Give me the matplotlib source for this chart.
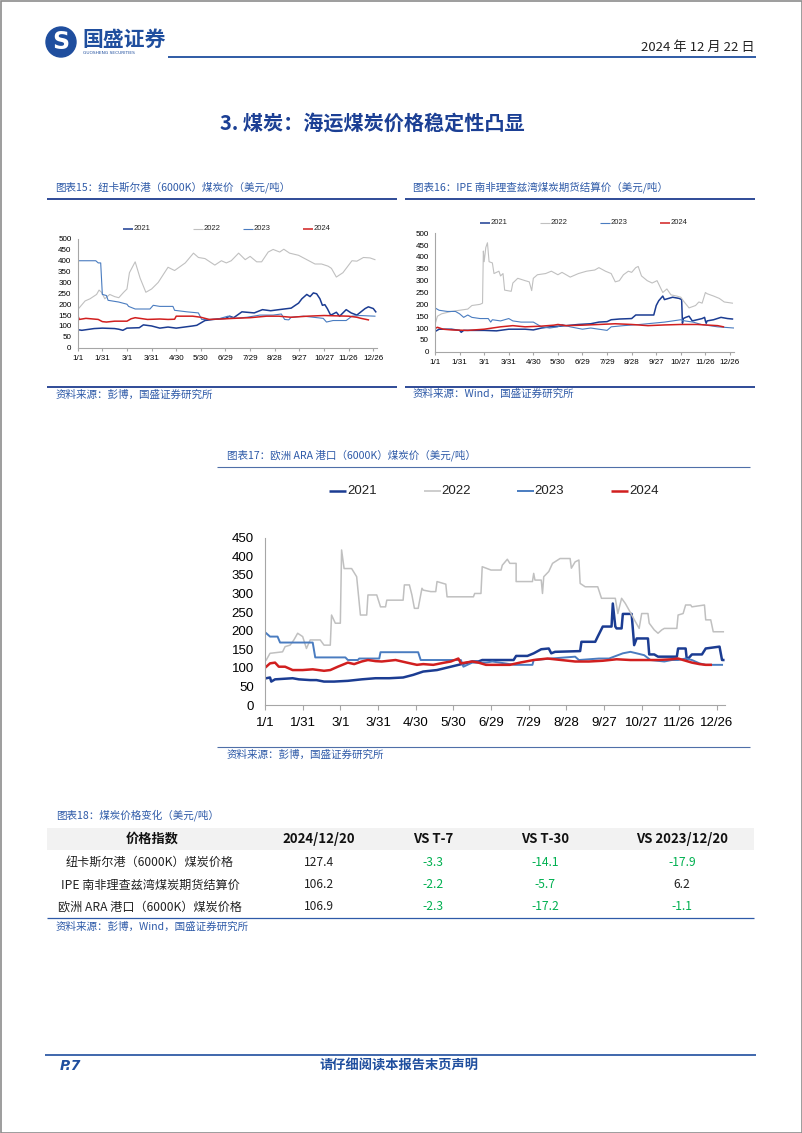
import matplotlib
matplotlib.use('Agg')
import matplotlib.pyplot as plt
import numpy as np
from matplotlib.patches import Rectangle, Circle

CJK = ['Noto Sans CJK SC', 'DejaVu Sans']
W, H = 802, 1133

# ---- data ----
years = ['2021', '2022', '2023', '2024']
xlabels = ['1/1', '1/31', '3/1', '3/31', '4/30', '5/30', '6/29', '7/29', '8/28', '9/27', '10/27', '11/26', '12/26']

# 纽卡斯尔港 (day of year, USD/t)
nc21_d = [0,5,20,30,45,50,55,60,75,80,90,100,110,120,130,140,145,155,165,180,185,190,200,215,225,235,245,260,265,269,273,279,283,287,291,295,298,301,304,308,311,315,319,327,333,340,350,354,360,363]
nc21_v = [83,80,88,90,88,85,80,90,92,105,100,90,95,90,95,100,103,125,130,135,145,138,165,160,175,170,175,182,195,205,225,245,235,252,248,225,195,198,180,150,155,163,145,175,160,150,180,188,180,165]
nc22_d = [0,9,15,19,23,26,29,33,39,45,50,56,60,63,70,76,83,90,98,110,118,131,141,147,155,167,175,181,187,196,204,210,218,224,232,238,246,251,258,269,279,289,297,305,309,315,323,334,340,348,356,362]
nc22_v = [175,215,225,235,245,265,255,225,245,235,230,255,270,345,395,320,255,270,300,370,355,390,435,415,410,380,400,390,400,435,405,420,395,395,440,452,440,453,435,425,405,385,385,375,365,325,345,400,398,415,413,405]
nc23_d = [0,22,25,28,30,35,37,50,60,62,70,88,92,100,116,118,133,147,151,169,183,191,206,222,238,248,252,257,260,275,287,299,303,311,327,334,344,362]
nc23_v = [400,400,390,390,245,240,218,210,200,190,178,178,195,190,190,172,165,160,130,130,145,135,140,150,150,155,130,128,140,145,140,135,118,125,125,145,148,145]
nc24_d = [0,2,10,25,30,35,45,60,65,70,85,100,110,118,120,140,150,160,180,190,210,230,245,260,280,300,330,340,345,354]
nc24_v = [148,130,135,130,120,118,122,122,133,138,130,132,130,131,145,145,140,130,133,135,138,145,145,140,145,148,145,140,135,128]

# IPE 理查兹湾
rb21_d = [0,5,20,30,32,35,40,60,75,90,110,120,130,140,160,175,190,200,210,215,225,240,245,267,270,273,278,280,290,298,301,302,303,306,310,314,326,329,330,331,332,340,349,357,363]
rb21_v = [85,95,95,90,82,90,90,90,88,95,95,92,100,105,110,115,118,125,127,135,138,140,155,155,195,215,235,220,230,225,220,120,140,145,150,130,140,145,130,120,130,135,145,140,138]
rb22_d = [0,3,8,20,30,40,45,55,58,59,60,62,64,66,70,72,78,80,83,85,93,95,101,110,115,118,120,125,135,142,150,155,165,175,185,195,200,208,215,220,225,230,236,240,245,248,252,259,265,271,278,283,288,295,300,303,310,318,322,326,330,332,340,347,353,363]
rb22_v = [115,150,160,170,175,180,195,200,205,425,380,440,460,380,375,330,340,320,330,260,255,290,310,300,295,258,310,325,330,340,325,335,315,330,340,345,355,340,330,295,300,325,340,335,355,360,320,300,290,300,250,265,240,235,230,215,185,195,210,205,250,245,235,225,210,205]
rb23_d = [0,5,15,25,30,35,40,45,55,65,68,70,80,90,95,105,120,125,130,140,150,155,165,180,190,200,210,215,230,250,265,280,290,300,305,315,325,335,345,365]
rb23_v = [185,175,170,170,160,145,155,145,140,140,125,135,130,140,130,125,125,115,105,100,105,115,105,95,100,95,90,105,110,115,120,125,130,135,130,125,115,110,105,100]
rb24_d = [0,3,10,20,40,60,70,80,95,110,130,145,150,160,180,200,220,240,260,280,300,320,335,345,352]
rb24_v = [98,103,95,92,90,95,100,105,110,105,108,112,115,110,112,115,118,115,110,113,115,115,112,110,105]

# 欧洲 ARA
ara21_d = [1,4,5,8,22,27,36,41,47,55,66,77,88,99,110,118,126,137,148,159,165,170,173,198,200,209,214,220,226,228,231,251,252,263,265,269,276,277,279,280,284,285,292,294,296,305,306,310,313,328,329,335,336,340,348,351,362,364,365]
ara21_v = [72,74,63,69,72,69,67,67,63,63,65,69,72,72,74,81,90,94,103,112,117,117,121,121,132,132,139,150,152,139,143,145,170,170,184,211,211,273,211,206,206,245,245,161,179,179,136,136,130,130,152,152,121,136,136,152,157,121,121]
ara22_d = [1,4,14,16,20,23,26,30,33,36,44,47,52,53,56,60,61,63,69,73,76,81,82,89,92,96,97,110,111,115,117,119,122,125,126,132,136,137,144,145,166,167,172,173,180,188,189,193,195,200,200,213,214,215,220,221,222,226,229,235,243,244,247,250,251,255,265,268,279,281,284,287,290,295,298,300,305,306,310,313,316,318,328,329,333,335,339,340,350,351,355,357,365]
ara22_v = [121,139,143,157,161,175,193,184,152,175,175,161,161,242,220,220,417,367,367,345,242,242,296,296,264,264,282,282,323,323,296,260,260,314,309,305,305,332,325,291,291,300,300,372,363,363,376,392,381,381,332,332,354,336,336,300,345,359,381,394,394,368,385,390,327,318,318,287,287,246,287,273,255,224,206,246,246,220,202,193,202,206,206,242,246,269,269,264,269,229,229,197,197]
ara23_d = [1,4,10,12,38,40,64,66,74,75,91,92,122,124,156,158,165,176,181,199,213,214,228,247,250,258,266,274,285,291,296,302,307,318,324,329,335,340,346,351,364]
ara23_v = [193,184,184,168,168,128,128,121,121,125,125,142,142,121,121,103,114,114,117,108,108,121,125,130,121,123,125,125,139,143,139,134,121,117,121,121,125,121,112,108,108]
ara24_d = [1,4,8,11,16,22,30,38,47,52,58,66,71,77,82,88,93,104,113,121,126,134,143,148,154,156,165,170,176,187,195,203,214,225,236,247,258,269,280,291,302,313,324,329,335,340,346,351,355]
ara24_v = [103,112,114,103,103,94,94,96,92,94,103,114,110,117,121,118,117,121,114,108,110,108,114,117,125,112,117,114,108,108,108,114,121,125,121,117,117,119,123,121,121,121,123,125,119,114,110,108,108]

# table
tbl_cols = ['价格指数', '2024/12/20', 'VS T-7', 'VS T-30', 'VS 2023/12/20']
tbl_names = ['纽卡斯尔港（6000K）煤炭价格', 'IPE 南非理查兹湾煤炭期货结算价', '欧洲 ARA 港口（6000K）煤炭价格']
tbl_price = [127.4, 106.2, 106.9]
tbl_t7 = [-3.3, -2.2, -2.3]
tbl_t30 = [-14.1, -5.7, -17.2]
tbl_yoy = [-17.9, 6.2, -1.1]

colors = ['#1b3c92', '#c0c0c0', '#4a7cc0', '#d11f1f']
blue = '#1f4e9e'
title_blue = '#2e5aa8'
cap_fs = 7.6

fig = plt.figure(figsize=(8.02, 11.33), dpi=100)
page = fig.add_axes([0, 0, 1, 1])
page.set_xlim(0, W)
page.set_ylim(H, 0)
page.axis('off')


def px_axes(left, top, right, bottom):
    return fig.add_axes([left / W, 1 - bottom / H, (right - left) / W, (bottom - top) / H])


def hline(y, x0, x1, color, lw):
    page.plot([x0, x1], [y, y], color=color, lw=lw, solid_capstyle='butt')


def chart(rect, series, ymax, ystep, xmax, fs, font, lws, tick_len, xpad, ypad):
    ax = px_axes(*rect)
    for (d, v), c, lw in zip(series, colors, lws):
        ax.plot(d, v, color=c, lw=lw)
    ax.set_xlim(0, xmax)
    ax.set_ylim(0, ymax)
    ax.set_xticks(np.arange(0, 361, 30))
    ax.set_xticklabels(xlabels, fontsize=fs, family=font)
    ax.set_yticks(np.arange(0, ymax + 1, ystep))
    ax.set_yticklabels([str(t) for t in np.arange(0, ymax + 1, ystep)], fontsize=fs, family=font)
    ax.tick_params(axis='x', length=tick_len, color='#a6a6a6', pad=xpad, width=0.8)
    ax.tick_params(axis='y', length=0, pad=ypad)
    for s in ['top', 'right']:
        ax.spines[s].set_visible(False)
    for s in ['left', 'bottom']:
        ax.spines[s].set_color('#a6a6a6')
        ax.spines[s].set_linewidth(0.8)
    ax.patch.set_alpha(0)
    return ax


def legend(xs, y, seg, fs, font, lws):
    for x, yr, c, lw in zip(xs, years, colors, lws):
        page.plot([x, x + seg], [y, y], color=c, lw=lw, solid_capstyle='butt')
        page.text(x + seg + 1, y, yr, fontsize=fs, family=font, va='center', ha='left', color='#222222')


# page border
page.add_patch(Rectangle((0.5, 0.5), W - 1, H - 1, fill=False, edgecolor='#8c8c8c', lw=1.2))

# header
page.add_patch(Circle((61, 42), 15, color=blue))
page.text(61, 42, 'S', color='white', fontsize=17, fontweight='bold', ha='center', va='center', family='DejaVu Sans')
page.text(82, 39, '国盛证券', fontsize=15, fontweight='bold', color=blue, family=CJK, va='center')
page.text(83, 52.5, 'GUOSHENG SECURITIES', fontsize=3.2, color=blue, va='center')
hline(57, 168, 756, blue, 1.3)
page.text(755, 47, '2024 年 12 月 22 日', fontsize=9.5, family=CJK, ha='right', va='center', color='#222222')

page.text(372, 123, '3. 煤炭：海运煤炭价格稳定性凸显', fontsize=14.5, fontweight='bold', color='#1b3f94',
          family=CJK, ha='center', va='center')

# chart 15
page.text(55, 187, '图表15：纽卡斯尔港（6000K）煤炭价（美元/吨）', fontsize=cap_fs, color=title_blue, family=CJK, va='center')
hline(199, 47, 397, '#1f3d8f', 1.3)
small_lw = [1.1, 0.8, 0.8, 1.1]
legend([123, 193, 243, 303], 229, 10, 5.5, 'Liberation Sans', small_lw)
chart((77.7, 239, 77.7 + 365 * 0.8211, 347.7),
      [(nc21_d, nc21_v), (nc22_d, nc22_v), (nc23_d, nc23_v), (nc24_d, nc24_v)],
      500, 50, 365, 5.8, 'Liberation Sans', small_lw, 2.5, 2.5, 4.5)
hline(386.7, 47, 397, '#1f3d8f', 1.3)
page.text(56, 395, '资料来源：彭博，国盛证券研究所', fontsize=cap_fs, color=title_blue, family=CJK, va='center')

# chart 16
page.text(413, 187, '图表16：IPE 南非理查兹湾煤炭期货结算价（美元/吨）', fontsize=cap_fs, color=title_blue, family=CJK, va='center')
hline(199, 405, 755, '#1f3d8f', 1.3)
legend([480, 540, 600, 660], 223, 10, 5.5, 'Liberation Sans', small_lw)
chart((435, 233.3, 435 + 365 * 0.8194, 351.7),
      [(rb21_d, rb21_v), (rb22_d, rb22_v), (rb23_d, rb23_v), (rb24_d, rb24_v)],
      500, 50, 365, 5.8, 'Liberation Sans', small_lw, 2.5, 2.5, 4.5)
hline(386.7, 405, 755, '#1f3d8f', 1.3)
page.text(413, 394, '资料来源：Wind，国盛证券研究所', fontsize=cap_fs, color=title_blue, family=CJK, va='center')

# chart 17
page.text(227, 455, '图表17：欧洲 ARA 港口（6000K）煤炭价（美元/吨）', fontsize=cap_fs, color=title_blue, family=CJK, va='center')
hline(467, 217, 750, '#4f6fa8', 0.8)
big_lw = [1.8, 1.1, 1.4, 1.8]
legend([329, 423.5, 516.5, 611], 491, 17, 9.5, 'Liberation Sans', big_lw)
chart((265, 537.7, 265 + 366 * 1.2556, 705),
      [(ara21_d, ara21_v), (ara22_d, ara22_v), (ara23_d, ara23_v), (ara24_d, ara24_v)],
      450, 50, 366, 9.5, 'Liberation Sans', big_lw, 3.5, 5, 8)
hline(747, 217, 750, '#4f6fa8', 0.8)
page.text(227, 755, '资料来源：彭博，国盛证券研究所', fontsize=cap_fs, color=title_blue, family=CJK, va='center')

# table 18
page.text(56, 815, '图表18：煤炭价格变化（美元/吨）', fontsize=cap_fs, color=title_blue, family=CJK, va='center')
page.add_patch(Rectangle((47, 828), 707, 22, facecolor='#f2f2f2', edgecolor='none'))
col_x = [152, 319, 433, 545, 682]
for x, t in zip(col_x, tbl_cols):
    page.text(x, 839, t, fontsize=9.5, fontweight='bold', family=CJK, ha='center', va='center', color='#111111')
row_y = [862, 885, 907]
for i, y in enumerate(row_y):
    page.text(150, y, tbl_names[i], fontsize=8.7, family=CJK, ha='center', va='center', color='#222222')
    page.text(col_x[1], y, f'{tbl_price[i]:.1f}', fontsize=8.7, family=CJK, ha='center', va='center', color='#222222')
    for x, v in zip(col_x[2:], [tbl_t7[i], tbl_t30[i], tbl_yoy[i]]):
        page.text(x, y, f'{v:.1f}', fontsize=8.7, family=CJK, ha='center', va='center',
                  color='#00b050' if v < 0 else '#222222')
hline(918, 47, 754, '#2e5aa8', 0.9)
page.text(56, 927, '资料来源：彭博，Wind，国盛证券研究所', fontsize=cap_fs, color=title_blue, family=CJK, va='center')

# footer
hline(1055, 45, 756, blue, 1.2)
page.text(60, 1066, 'P.7', fontsize=10, fontweight='bold', style='italic', color=blue, va='center')
page.text(399, 1066, '请仔细阅读本报告末页声明', fontsize=9.5, fontweight='bold', color=blue, family=CJK,
          ha='center', va='center')

fig.savefig('out.png', dpi=100)
